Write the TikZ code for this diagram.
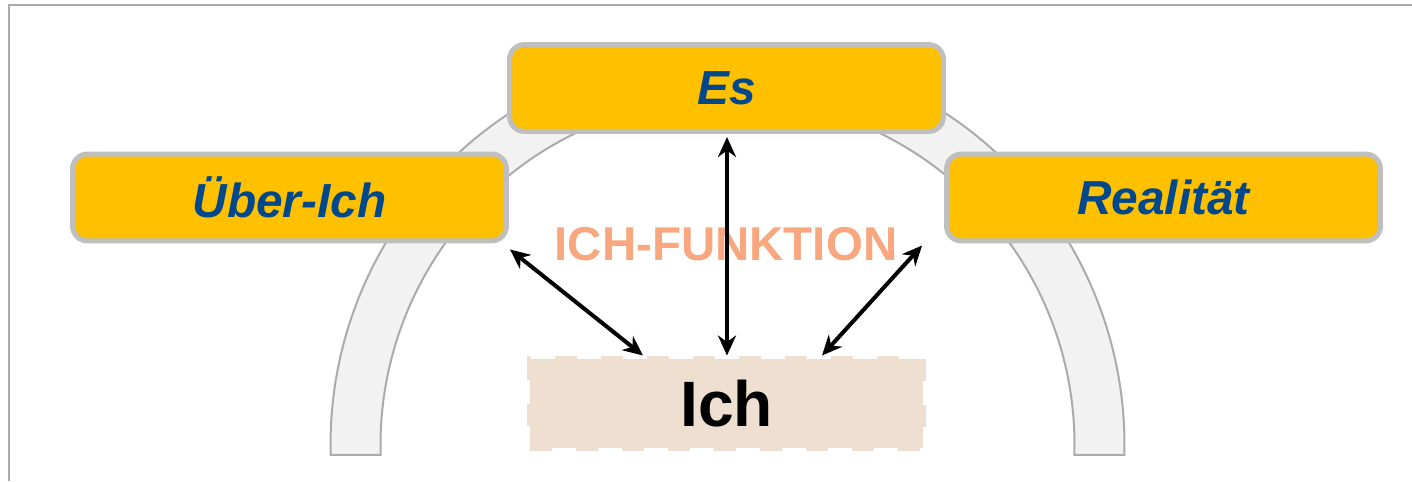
\documentclass[tikz,border=0pt]{standalone}
\usepackage{fontspec}
\setmainfont{Liberation Sans}
\usetikzlibrary{arrows.meta}

\definecolor{instanz}{HTML}{FFC000}
\definecolor{rand}{HTML}{BFBFBF}
\definecolor{schrift}{RGB}{0,72,140}
\definecolor{funktion}{HTML}{F9A77F}
\definecolor{ichfarbe}{HTML}{EEDFD0}
\definecolor{bogen}{HTML}{F2F2F2}
\definecolor{bogenrand}{HTML}{ABABAB}

\begin{document}
\begin{tikzpicture}[x=0.02cm, y=0.02cm]
		\useasboundingbox (0,0) rectangle (1412,481);
		\draw[bogenrand, line width=0.04cm] (1412,476) -- (9,476) -- (9,0);
		% Bogen hinter den Instanzen
		\coordinate (M) at (727.5,36);
		\draw[fill=bogen, draw=bogenrand, line width=0.04cm]
			([shift={(181.44:397)}]M) arc (181.44:-1.44:397)
			-- ([shift={(-1.65:347)}]M) arc (-1.65:181.65:347) -- cycle;
		\begin{scope}[every node/.style={draw=rand, fill=instanz, line width=0.1cm, rounded corners=0.3cm,
				minimum width=8.68cm, minimum height=1.74cm, text=schrift,
				font=\fontsize{27.2}{31}\selectfont\bfseries\itshape}]
			\node (Es) at (726.5,393) {Es};
			\node (UeberIch) at (289.5,283.5) {Über-Ich};
			\node (Realitaet) at (1163.5,283.5) {Realität};
		\end{scope}
		\node[fill=ichfarbe, draw=ichfarbe, line width=0.14cm, dash pattern=on 0.44cm off 0.48cm,
			minimum width=7.86cm, minimum height=1.78cm, font=\fontsize{36.5}{40}\selectfont\bfseries] (Ich) at (726.5,77.5) {Ich};
		\node[text=funktion, font=\fontsize{27}{31}\selectfont\bfseries, anchor=base] (Funktion) at (726,221) {ICH-FUNKTION};
		\begin{scope}[>={Stealth[length=0.4cm, width=0.36cm]}, every edge/.style={draw, line width=0.08cm}]
			\path [<->] ([shift={(1,-6)}]UeberIch.south east) edge ([shift={(-83.5,0)}]Ich.north);
			\path [<->] ([shift={(0.5,-3)}]Es.south) edge ([shift={(0.5,0)}]Ich.north);
			\path [<->] ([shift={(-22,-2)}]Realitaet.south west) edge ([shift={(95.5,0)}]Ich.north);
		\end{scope}
	\end{tikzpicture}
\end{document}
